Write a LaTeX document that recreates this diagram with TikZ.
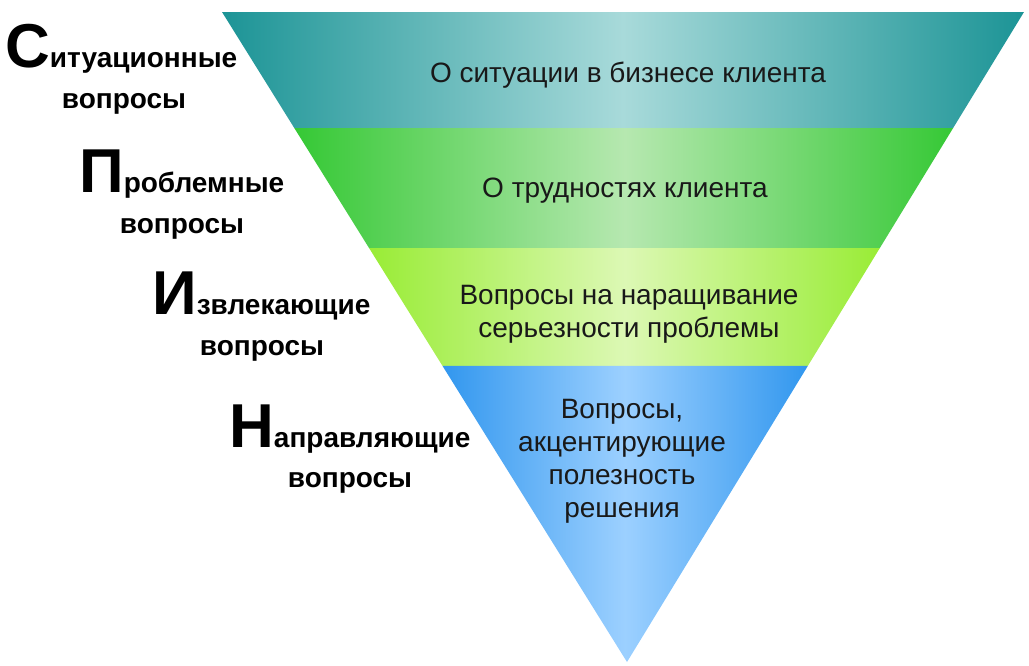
\documentclass[tikz,border=0pt]{standalone}
\usepackage{fontspec}
\setmainfont{Liberation Sans}
\usetikzlibrary{calc}
\definecolor{tealE}{RGB}{28,148,150}
\definecolor{tealM}{RGB}{168,218,218}
\definecolor{greenE}{RGB}{52,200,52}
\definecolor{greenM}{RGB}{182,232,176}
\definecolor{limeE}{RGB}{152,236,52}
\definecolor{limeM}{RGB}{220,248,180}
\definecolor{blueE}{RGB}{48,150,238}
\definecolor{blueM}{RGB}{156,208,255}
\newcommand\capbig[1]{{\fontsize{62}{62}\selectfont #1}}
\begin{document}
\begin{tikzpicture}[x=1pt,y=-1pt,
  bandtext/.style={inner sep=0pt, font=\fontsize{28}{33}\selectfont, text=black!90},
  lab/.style={inner sep=0pt, font=\fontsize{28}{41}\selectfont\bfseries}]
\useasboundingbox (0,0) rectangle (1029,665);
\coordinate (TL) at (222,12);
\coordinate (TR) at (1024,12);
\coordinate (A) at (627,662);
\coordinate (L1) at ($(TL)!0.1785!(A)$);
\coordinate (R1) at ($(TR)!0.1785!(A)$);
\coordinate (L2) at ($(TL)!0.3631!(A)$);
\coordinate (R2) at ($(TR)!0.3631!(A)$);
\coordinate (L3) at ($(TL)!0.5446!(A)$);
\coordinate (R3) at ($(TR)!0.5446!(A)$);
% band 1
\begin{scope}
  \clip (TL) -- (TR) -- (R1) -- (L1) -- cycle;
  \shade[left color=tealE, right color=tealE, middle color=tealM] (222,10) rectangle (1024,130);
\end{scope}
% band 2
\begin{scope}
  \clip (L1) -- (R1) -- (R2) -- (L2) -- cycle;
  \shade[left color=greenE, right color=greenE, middle color=greenM] (292,126) rectangle (958,250);
\end{scope}
% band 3
\begin{scope}
  \clip (L2) -- (R2) -- (R3) -- (L3) -- cycle;
  \shade[left color=limeE, right color=limeE, middle color=limeM] (366,246) rectangle (884,368);
\end{scope}
% band 4
\begin{scope}
  \clip (L3) -- (R3) -- (A) -- cycle;
  \shade[left color=blueE, right color=blueE, middle color=blueM] (440,364) rectangle (810,664);
\end{scope}
% texts in bands
\node[bandtext, anchor=base] (t1) at (628,82) {О ситуации в бизнесе клиента};
\node[bandtext, anchor=base] (t2) at (625,197) {О трудностях клиента};
\node[bandtext, anchor=base, align=center] (t3) at (629,337) {Вопросы на наращивание\\серьезности проблемы};
\node[bandtext, anchor=base, align=center] (t4) at (622,517) {Вопросы,\\акцентирующие\\полезность\\решения};
% labels
\node[lab, anchor=base west] (c1) at (5,67) {\capbig{С}итуационные};
\node[lab, anchor=base] (c1b) at (124,108) {вопросы};
\node[lab, anchor=base west] (c2) at (79,192) {\capbig{П}роблемные};
\node[lab, anchor=base] (c2b) at (182,233) {вопросы};
\node[lab, anchor=base west] (c3) at (152,314) {\capbig{И}звлекающие};
\node[lab, anchor=base] (c3b) at (262,355) {вопросы};
\node[lab, anchor=base west] (c4) at (229,447) {\capbig{Н}аправляющие};
\node[lab, anchor=base] (c4b) at (350,487) {вопросы};
\end{tikzpicture}
\end{document}
